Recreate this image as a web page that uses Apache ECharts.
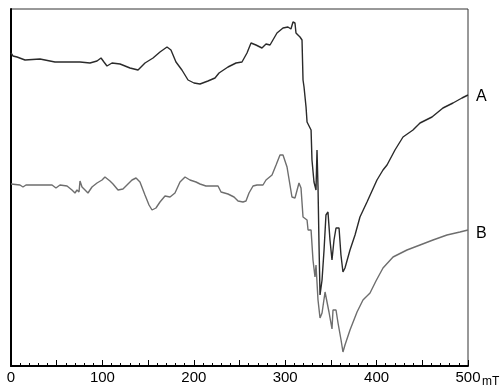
<!DOCTYPE html>
<html><head><meta charset="utf-8">
<script src="https://cdn.jsdelivr.net/npm/echarts@6/dist/echarts.min.js"></script>
<style>html,body{margin:0;padding:0;background:#fff}#c{width:503px;height:388px}</style>
</head><body><div id="c"></div>
<script>
// Magnetic field (mT) and signal (arbitrary units) for trace A
const fieldA = [0,2.2,6.6,15.3,31.7,48.1,64.6,75.5,86.4,94.1,98.5,101.7,105,110.5,119.3,130.2,139,146.6,155.4,163,170.7,175,180.5,187,193.7,200.2,206.8,215.5,223.2,227.6,237.4,246.2,252.7,258.2,262.6,268,274.6,279,283.4,291,297.6,303,306.3,308.5,310.7,311.8,316.2,318.4,319,319.5,320.6,322.8,323.9,328.3,329.3,331.5,333.7,334.8,335.9,337,338.1,340.3,342.5,344.6,346.8,349,351.2,353.4,355.6,358.9,361,363.2,365.4,370.9,376.4,381.8,389.5,400.4,407,411.4,420.1,428.9,439.8,447.5,460.6,472.6,483.6,493.4,500];
const signalA = [313,310,309,306,307,304,304,304,303,305,308,304,300,303,302,298,296,303,308,314,319,316,304,296,286,283,282,285,288,293,299,303,304,313,323,321,318,322,321,333,338,339,337,344,343,333,329,326,304,286,279,259,244,236,206,184,176,216,179,121,71,86,116,151,154,126,106,126,138,138,111,94,98,116,131,149,164,186,196,201,216,229,236,243,249,258,263,268,271];
// Trace B
const fieldB = [0,9.8,13.1,16.4,31.7,32.8,38.3,44.9,49.2,53.6,61.3,66.7,70,72.2,74.4,75.5,77.7,81,84.2,88.6,94.1,99.6,102.8,108.3,111.6,117.1,122.5,126.9,132.4,136.8,141.1,146.6,151,154.3,158.6,163,168.5,174,179.4,184.9,190.4,195.8,202.4,206.8,213.3,221,226.5,229.8,237.4,244,248.4,253.8,257.1,260.4,264.8,269.2,275.7,279,285.6,290,294.3,297.6,302,307.4,310.7,315.1,317.3,319.5,323.9,325,328.3,330.4,332.6,333.7,335.9,338.1,340.3,343.6,345.7,347.9,351.2,352.3,355.6,357.8,361.1,363.2,365.4,370.9,378.6,385.1,392.8,399.3,407,418,433.2,447.5,461.7,477,491.2,500];
const signalB = [182,181,179,181,181,183,181,181,178,181,180,176,173,176,174,185,179,176,173,179,183,186,189,185,182,176,177,181,186,188,184,171,161,156,158,164,170,169,173,184,189,186,184,182,180,180,180,174,172,169,165,164,165,173,180,181,181,186,191,201,211,211,199,169,168,183,178,149,146,136,136,106,89,101,66,48,53,74,73,54,37,56,56,43,26,14,21,36,54,66,73,85,98,109,116,121,126,131,134,136];
const xTicks = [0,100,200,300,400,500];
const unitText = 'mT';
const seriesNames = ['A','B'];

const pair = (xs, ys) => xs.map((x, i) => [x, ys[i]]);
const chart = echarts.init(document.getElementById('c'), null, {renderer: 'canvas'});
const FONT = "'Liberation Sans Narrow','Liberation Sans',Arial,sans-serif";
chart.setOption({
  animation: false,
  grid: {left: 11, top: 9, width: 457, height: 357, show: true, borderColor: '#333', borderWidth: 1, backgroundColor: '#fff'},
  xAxis: {
    type: 'value', min: 0, max: 500, interval: 50,
    axisLine: {lineStyle: {color: '#000', width: 2}},
    axisTick: {inside: true, length: 6, lineStyle: {color: '#000', width: 1}},
    minorTick: {show: true, splitNumber: 5, length: 3, lineStyle: {color: '#000', width: 1}},
    splitLine: {show: false},
    axisLabel: {
      margin: 4, color: '#000', fontSize: 15, fontFamily: FONT, showMinLabel: true, showMaxLabel: true,
      formatter: v => xTicks.includes(v) ? String(v) : ''
    }
  },
  yAxis: {
    type: 'value', min: 0, max: 357,
    axisLine: {show: true, lineStyle: {color: '#000', width: 2}},
    axisTick: {show: false}, axisLabel: {show: false}, splitLine: {show: false}
  },
  graphic: [{type: 'text', left: 482, top: 376, style: {text: unitText, fontSize: 12, fontFamily: FONT, fill: '#000'}}],
  series: [
    {name: seriesNames[0], type: 'line', data: pair(fieldA, signalA), symbol: 'none', smooth: false,
     lineStyle: {color: '#2a2a2a', width: 1.4},
     endLabel: {show: true, formatter: seriesNames[0], color: '#000', fontSize: 16, fontFamily: FONT, distance: 8, offset: [0, 2]}},
    {name: seriesNames[1], type: 'line', data: pair(fieldB, signalB), symbol: 'none', smooth: false,
     lineStyle: {color: '#6e6e6e', width: 1.4},
     endLabel: {show: true, formatter: seriesNames[1], color: '#000', fontSize: 16, fontFamily: FONT, distance: 8, offset: [0, 4]}}
  ]
});
</script></body></html>
